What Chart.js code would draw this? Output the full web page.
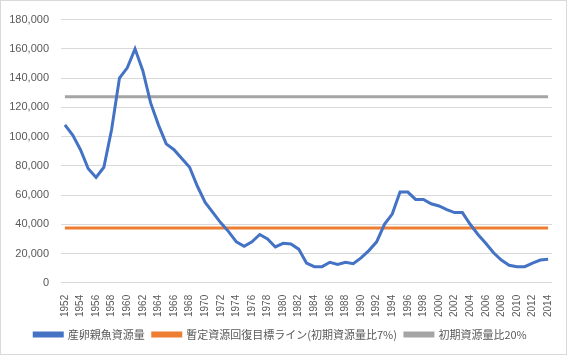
<!DOCTYPE html>
<html>
<head>
<meta charset="utf-8">
<script src="https://cdn.jsdelivr.net/npm/chart.js@4.4.0/dist/chart.umd.min.js"></script>
<style>
html,body{margin:0;padding:0;background:#fff;}
#wrap{position:absolute;left:0;top:0;width:565px;height:353px;border:1px solid #d9d9d9;}
</style>
</head>
<body>
<div id="wrap"><canvas id="c" width="565" height="353"></canvas></div>
<script>
const years = [];
for (let y = 1952; y <= 2014; y++) years.push(String(y));
const spawningStock = [108000,101000,91000,78000,72000,79000,105000,140000,147000,160000,
  145000,123000,108000,95000,91000,85000,79000,66000,55000,48000,
  41000,35000,28000,25000,28000,33000,30000,24500,27000,26500,
  23000,13500,11000,11000,14000,12500,14000,13000,17000,22000,
  28000,40000,47000,62000,62000,57000,57000,54000,52500,50000,
  48000,48000,40000,33000,27000,20500,15500,12000,11000,11000,
  13500,15500,16000];
const targetLine = years.map(() => 37500);
const initial20 = years.map(() => 127300);
const seriesNames = ['産卵親魚資源量','暫定資源回復目標ライン(初期資源量比7%)','初期資源量比20%'];
const yTicks = [0,20000,40000,60000,80000,100000,120000,140000,160000,180000];

new Chart(document.getElementById('c'), {
  type: 'line',
  data: {
    labels: years,
    datasets: [
      {label: seriesNames[0], data: spawningStock, borderColor:'#4472c4', backgroundColor:'#4472c4', borderWidth:3, pointRadius:0, tension:0},
      {label: seriesNames[1], data: targetLine, borderColor:'#ed7d31', backgroundColor:'#ed7d31', borderWidth:3, pointRadius:0},
      {label: seriesNames[2], data: initial20, borderColor:'#a5a5a5', backgroundColor:'#a5a5a5', borderWidth:3, pointRadius:0}
    ]
  },
  options: {
    responsive:false, animation:false,
    layout:{padding:{left:8,right:14,top:2,bottom:4}},
    plugins:{
      legend:{position:'bottom', labels:{boxWidth:28, boxHeight:3, padding:8, color:'#595959', font:{family:'"Noto Sans CJK JP"', size:11}}},
      tooltip:{enabled:false}
    },
    scales:{
      x:{
        offset:true,
        grid:{display:false},
        border:{display:false},
        ticks:{autoSkip:false, maxRotation:90, minRotation:90, padding:4, color:'#595959', font:{family:'Liberation Sans', size:10},
          callback:function(v,i){ return (i % 2 === 0) ? years[i] : ''; }}
      },
      y:{
        min:0, max:180000,
        afterBuildTicks: (ax) => { ax.ticks = yTicks.map(v => ({value:v})); },
        afterFit: (s) => { s.width = 52; },
        grid:{color:'#d9d9d9', drawTicks:false},
        border:{display:false},
        ticks:{padding:12, color:'#595959', font:{family:'Liberation Sans', size:11},
          callback:(v) => v.toLocaleString('en-US')}
      }
    }
  }
});
</script>
</body>
</html>
